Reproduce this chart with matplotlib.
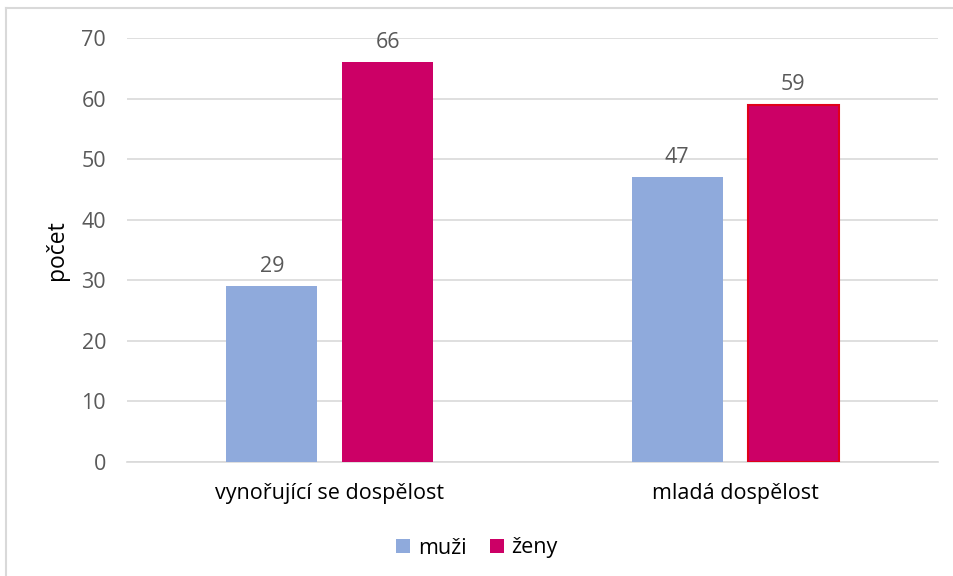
import matplotlib
matplotlib.use("Agg")
import matplotlib.pyplot as plt
from matplotlib.lines import Line2D
from matplotlib.patches import Patch
import numpy as np

categories = ["vynořující se dospělost", "mladá dospělost"]
series_names = ["muži", "ženy"]
muzi = [29, 47]
zeny = [66, 59]
yticks = [0, 10, 20, 30, 40, 50, 60, 70]

plt.rcParams['font.family'] = ['Open Sans', 'DejaVu Sans']

W, H = 954, 576
fig = plt.figure(figsize=(W / 100, H / 100), dpi=100)
ax = fig.add_axes([127 / W, 1 - 462 / H, (938 - 127) / W, (462 - 38) / H])

c_muzi = "#8FAADC"
c_zeny = "#CC0066"
gray = "#595959"
fs = 15.5

x = np.arange(len(categories))
bw = 0.224
off = 0.143
b1 = ax.bar(x - off, muzi, bw, color=c_muzi, zorder=3)
b2 = ax.bar(x + off, zeny, bw, color=c_zeny, zorder=3)
# second ženy bar has a red outline in the reference
b2[1].set_edgecolor("#E0001A")
b2[1].set_linewidth(1.5)

for bars, vals in ((b1, muzi), (b2, zeny)):
    for r, v in zip(bars, vals):
        ax.annotate(str(v), (r.get_x() + r.get_width() / 2, v), xytext=(0, 7),
                    textcoords="offset points", ha="center", va="bottom",
                    fontsize=fs, color=gray)

ax.set_xlim(-0.5, 1.5)
ax.set_ylim(0, 70)
ax.set_yticks(yticks)
ax.set_yticklabels([str(t) for t in yticks])
ax.set_xticks(x)
ax.set_xticklabels(categories)
ax.tick_params(axis="y", length=0, pad=15, labelsize=fs, labelcolor=gray)
ax.tick_params(axis="x", length=0, pad=15, labelsize=fs, labelcolor="#000000")
ax.grid(axis="y", color="#D9D9D9", linewidth=1.2, zorder=0)
for s in ["top", "right", "left"]:
    ax.spines[s].set_visible(False)
ax.spines["bottom"].set_color("#D9D9D9")
ax.spines["bottom"].set_linewidth(1.2)
ax.set_ylabel("počet", fontsize=16.5, color="#000000", labelpad=9)

handles = [Patch(facecolor=c_muzi), Patch(facecolor=c_zeny)]
fig.legend(handles, series_names, loc="center", bbox_to_anchor=(0.5, 1 - 548 / H),
           ncol=2, frameon=False, fontsize=fs, handlelength=0.65, handleheight=0.65,
           handletextpad=0.35, columnspacing=1.1)

# outer chart border (left and top visible)
fig.add_artist(Line2D([6.5 / W, 6.5 / W], [0, 1 - 8 / H], transform=fig.transFigure,
                      color="#D9D9D9", linewidth=1.5))
fig.add_artist(Line2D([6.5 / W, 1], [1 - 8 / H, 1 - 8 / H], transform=fig.transFigure,
                      color="#D9D9D9", linewidth=1.5))

fig.savefig("out.png", dpi=100)
